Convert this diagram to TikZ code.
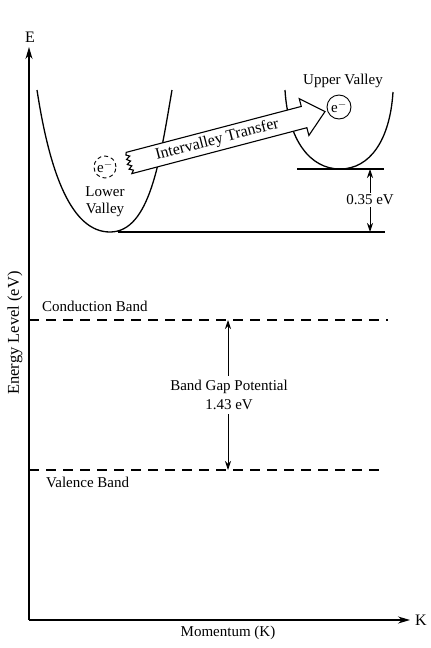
\documentclass[tikz,border=0pt]{standalone}
\usepackage{fontspec}
\setmainfont{Liberation Serif}
\usetikzlibrary{arrows.meta,calc}
\tikzset{
  lbl/.style={font=\fontsize{15}{17}\selectfont, inner sep=0pt},
  ax/.style={line width=1.3pt},
  crv/.style={line width=1.3pt},
  lvl/.style={line width=1.1pt},
  dsh/.style={line width=1.1pt, dash pattern=on 10pt off 7pt},
  dim/.style={line width=0.9pt, -{Stealth[length=9pt,width=6pt]}},
  axtip/.style={-{Stealth[length=12pt,width=7pt]}}
}
\begin{document}
\begin{tikzpicture}[x=1pt,y=-1pt]
\useasboundingbox (0,0) rectangle (431,648);
% axes
\coordinate (O) at (29,620);
\coordinate (Ytop) at (29,47);
\coordinate (Xend) at (410,620);
\draw[ax,axtip] (O) -- (Ytop);
\draw[ax,axtip] (O) -- (Xend);
\node[lbl,font=\fontsize{16}{18}\selectfont] (E) at (30,37) {E};
\node[lbl,font=\fontsize{16}{18}\selectfont] (K) at (421,620) {K};
\node[lbl] (mom) at (228,633) {Momentum (K)};
\node[lbl,rotate=90,font=\fontsize{16.5}{18}\selectfont] (elev) at (15,333) {Energy Level (eV)};
% lower valley
\draw[crv] (37,90) .. controls (50,175) and (72,232) .. (110,232)
  .. controls (150,232) and (160,160) .. (172,90);
\coordinate (lowL) at (118,232);
\coordinate (lowR) at (385,232);
\draw[lvl] (lowL) -- (lowR);
% upper valley
\draw[crv] (285,90) .. controls (288,140) and (310,169) .. (340,169)
  .. controls (370,169) and (390,140) .. (393,92);
\coordinate (upL) at (297,169);
\coordinate (upR) at (384,169);
\draw[lvl] (upL) -- (upR);
% 0.35 eV
\node[lbl] (d035) at (370,200) {0.35 eV};
\coordinate (u035) at (370,169);
\coordinate (l035) at (370,232);
\draw[dim] (d035.north) ++(0,-2) coordinate (a1) (a1) -- (u035);
\draw[dim] (d035.south) ++(0,2) coordinate (a2) (a2) -- (l035);
% electrons
\node[circle,draw,line width=0.9pt,minimum size=22pt,inner sep=0pt,dash pattern=on 4pt off 3pt] (eL) at (105,167) {};
\node[lbl] at (eL) {e$^{-}$};
\node[lbl,align=center] (lowlab) at (105,202) {Lower\\Valley};
\node[circle,draw,line width=0.9pt,minimum size=24pt,inner sep=0pt] (eU) at (339,107) {};
\node[lbl] at (eU) {e$^{-}$};
\node[lbl] (uplab) at (343,81) {Upper Valley};
% big arrow
\coordinate (tail) at (129,163);
\coordinate (tip) at (325,112);
\begin{scope}[shift={(tail)},rotate=14.7]
\draw[line width=1.1pt,fill=white,line join=miter]
  (0,-11) -- (181,-11) -- (181,-19) -- (202.6,0) -- (181,19) -- (181,11)
  -- (0,11) -- (2.5,8) -- (-1.5,6) -- (2,3.5) -- (-2,1) -- (2,-1.5) -- (-1.5,-4) -- (2.5,-6.5) -- (-1,-8.5) -- cycle;
\end{scope}
\node[lbl,rotate=14.7,font=\fontsize{16}{18}\selectfont] (ivt) at ($(tail)!0.45!(tip)$) {Intervalley Transfer};
% bands
\coordinate (cbL) at (29,320);
\coordinate (cbR) at (388,320);
\coordinate (vbL) at (29,470);
\coordinate (vbR) at (383,470);
\draw[dsh] (cbL) -- (cbR);
\draw[dsh] (vbL) -- (vbR);
\node[lbl,anchor=west] (cb) at (42,306) {Conduction Band};
\node[lbl,anchor=west] (vb) at (46,482) {Valence Band};
\node[lbl,align=center] (bg) at (229,395) {Band Gap Potential\\[2pt]1.43 eV};
\coordinate (bgt) at (228,320);
\coordinate (bgb) at (228,470);
\draw[dim] (bg.north -| bgt) ++(0,-4) coordinate (b1) (b1) -- (bgt);
\draw[dim] (bg.south -| bgb) ++(0,4) coordinate (b2) (b2) -- (bgb);
\end{tikzpicture}
\end{document}
